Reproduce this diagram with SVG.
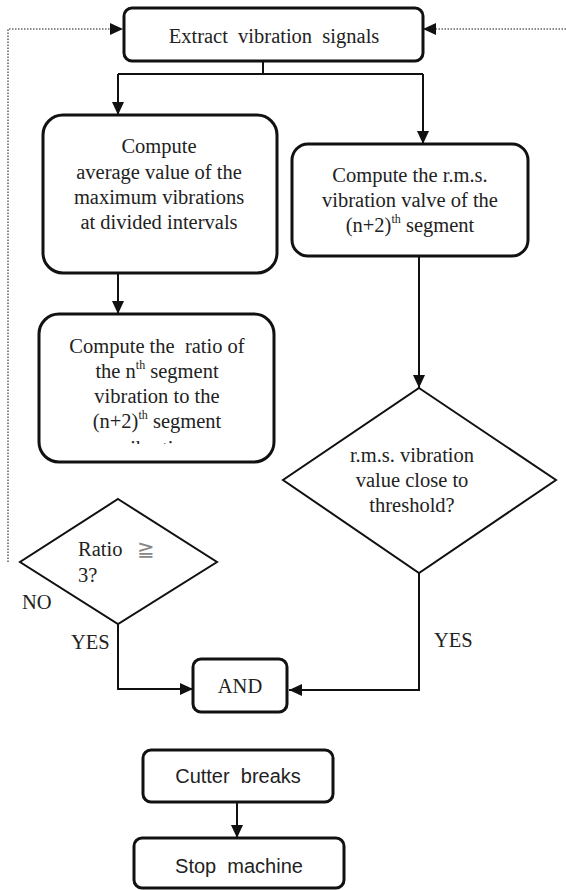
<svg xmlns="http://www.w3.org/2000/svg" width="566" height="890" viewBox="0 0 566 890">
<style>
.box{fill:#fff;stroke:#111;stroke-width:3}
.dia{fill:#fff;stroke:#111;stroke-width:2}
.ln{fill:none;stroke:#111;stroke-width:2}
.dot{fill:none;stroke:#666;stroke-width:1.6;stroke-dasharray:1.5 1.5}
.t{font-family:"Liberation Serif","Times New Roman",serif;font-size:20.5px;fill:#222;text-anchor:middle}
.ts{font-family:"Liberation Serif","Times New Roman",serif;font-size:20.5px;fill:#222}
.s{font-family:"Liberation Sans",Arial,sans-serif;font-size:20px;fill:#222;text-anchor:middle}
</style>
<defs>
<marker id="ah" markerUnits="userSpaceOnUse" markerWidth="13" markerHeight="12" refX="13" refY="6" orient="auto">
<path d="M0,0 L13,6 L0,12 z" fill="#111"/>
</marker>
<clipPath id="cl"><rect x="40" y="436" width="232" height="8"/></clipPath>
</defs>
<g id="connectors">
<path class="dot" d="M8,562 V29 H123" marker-end="url(#ah)"/>
<path class="dot" d="M566,29 H423" marker-end="url(#ah)"/>
<path class="ln" d="M263,61 V74"/>
<path class="ln" d="M118,74 H423"/>
<path class="ln" d="M118,74 V115" marker-end="url(#ah)"/>
<path class="ln" d="M423,74 V144" marker-end="url(#ah)"/>
<path class="ln" d="M118,273 V314" marker-end="url(#ah)"/>
<path class="ln" d="M419,256 V388" marker-end="url(#ah)"/>
<path class="ln" d="M118,624 V689 H193" marker-end="url(#ah)"/>
<path class="ln" d="M419,573 V690 H289" marker-end="url(#ah)"/>
<path class="ln" d="M237,802 V838" marker-end="url(#ah)"/>
</g>
<g id="extract">
<rect class="box" x="124" y="8" width="299" height="53" rx="8"/>
<text class="t" x="274" y="43" xml:space="preserve">Extract  vibration  signals</text>
</g>
<g id="average">
<rect class="box" x="43" y="115" width="234" height="158" rx="20"/>
<text class="t" x="159" y="153">Compute</text>
<text class="t" x="159" y="179">average value of the</text>
<text class="t" x="159" y="204">maximum vibrations</text>
<text class="t" x="159" y="229">at divided intervals</text>
</g>
<g id="rms">
<rect class="box" x="292" y="144" width="236" height="112" rx="16"/>
<text class="t" x="410" y="182">Compute the r.m.s.</text>
<text class="t" x="410" y="207">vibration valve of the</text>
<text class="t" x="410" y="232">(n+2)<tspan font-size="12" dy="-9">th</tspan><tspan dy="9"> segment</tspan></text>
</g>
<g id="ratio">
<rect class="box" x="39" y="314" width="235" height="148" rx="20"/>
<text class="t" x="157" y="353" xml:space="preserve">Compute the  ratio of</text>
<text class="t" x="157" y="378">the n<tspan font-size="12" dy="-9">th</tspan><tspan dy="9"> segment</tspan></text>
<text class="t" x="157" y="403">vibration to the</text>
<text class="t" x="157" y="428">(n+2)<tspan font-size="12" dy="-9">th</tspan><tspan dy="9"> segment</tspan></text>
<text class="t" x="157" y="455" clip-path="url(#cl)">vibration</text>
</g>
<g id="threshold">
<polygon class="dia" points="419,388 556,480 419,573 283,480"/>
<text class="t" x="412" y="462">r.m.s. vibration</text>
<text class="t" x="412" y="487">value close to</text>
<text class="t" x="412" y="512">threshold?</text>
</g>
<g id="ratio-check">
<polygon class="dia" points="118,499 217,562 118,624 20,562"/>
<text class="ts" x="78" y="556">Ratio</text>
<text class="ts" x="137" y="556" style="fill:#888">≧</text>
<text class="ts" x="78" y="582">3?</text>
</g>
<g id="labels">
<text class="ts" x="22" y="609">NO</text>
<text class="ts" x="71" y="649">YES</text>
<text class="ts" x="434" y="647">YES</text>
</g>
<g id="and">
<rect class="box" x="193" y="659" width="94" height="53" rx="8"/>
<text class="t" x="240" y="693">AND</text>
</g>
<g id="cutter">
<rect class="box" x="143" y="750" width="190" height="52" rx="8"/>
<text class="s" x="238" y="783" xml:space="preserve">Cutter  breaks</text>
</g>
<g id="stop">
<rect class="box" x="134" y="838" width="210" height="50" rx="8"/>
<text class="s" x="239" y="873" xml:space="preserve">Stop  machine</text>
</g>
</svg>
